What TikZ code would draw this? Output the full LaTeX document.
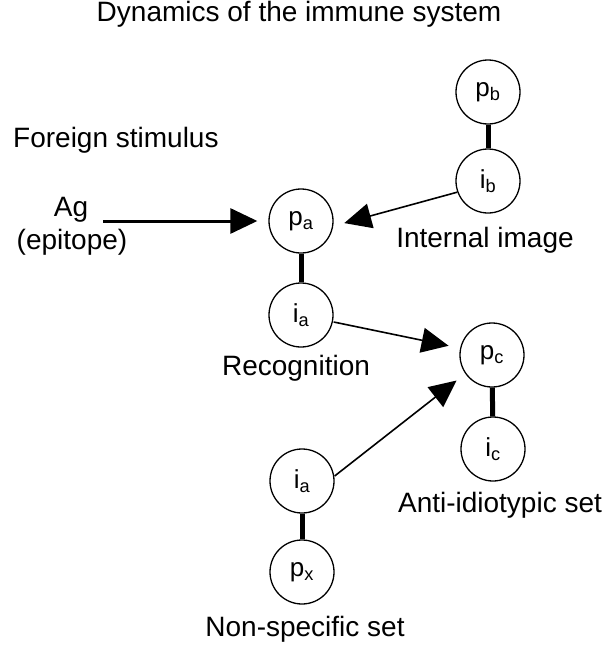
\documentclass[tikz,border=0pt]{standalone}
\usepackage{fontspec}
\setmainfont{Liberation Sans}
\usetikzlibrary{arrows.meta}
\begin{document}
\begin{tikzpicture}[x=1pt,y=-1pt,
  cell/.style={circle,draw,line width=1.3pt,minimum size=64pt,inner sep=0pt,font=\fontsize{26}{30}\selectfont},
  label/.style={font=\fontsize{28}{32}\selectfont,inner sep=0pt},
  bond/.style={line width=5pt},
  tip/.style={-{Triangle[length=27pt,width=25pt]}},
  link/.style={line width=1.6pt,tip,shorten >=11pt}]
\useasboundingbox (0,0) rectangle (603,645);
% titles and captions
\node[label] (title) at (299,14) {Dynamics of the immune system};
\node[label,anchor=west] (foreign) at (13,140) {Foreign stimulus};
\node[label] (ag) at (71,210) {Ag};
\node[label] (epi) at (72,242) {(epitope)};
\coordinate (agout) at (103,221);
\node[label] (internal) at (485,240) {Internal image};
\node[label] (recog) at (296,368) {Recognition};
\node[label] (anti) at (500,505) {Anti-idiotypic set};
\node[label] (nonspec) at (305,629) {Non-specific set};
% cells
\node[cell] (pb) at (488,92) {p\textsubscript{b}};
\node[cell] (ib) at (488,181) {i\textsubscript{b}};
\node[cell] (pa) at (301,221) {p\textsubscript{a}};
\node[cell] (ia) at (301,315) {i\textsubscript{a}};
\node[cell] (pc) at (492,355) {p\textsubscript{c}};
\node[cell] (ic) at (493,449) {i\textsubscript{c}};
\node[cell] (ia2) at (302,481) {i\textsubscript{a}};
\node[cell] (px) at (302,572) {p\textsubscript{x}};
% bonds within each set
\draw[bond] (pb) -- (ib);
\draw[bond] (pa) -- (ia);
\draw[bond] (pc) -- (ic);
\draw[bond] (ia2) -- (px);
% interactions
\draw[line width=3pt,tip,shorten >=11pt] (agout) -- (pa.west);
\draw[link] (ib.200) -- (pa.east |- 0,226);
\draw[link] (ia.east |- 0,322) -- (pc.west |- 0,348);
\draw[link] (ia2.east |- 0,476) -- (pc.215);
\end{tikzpicture}
\end{document}
